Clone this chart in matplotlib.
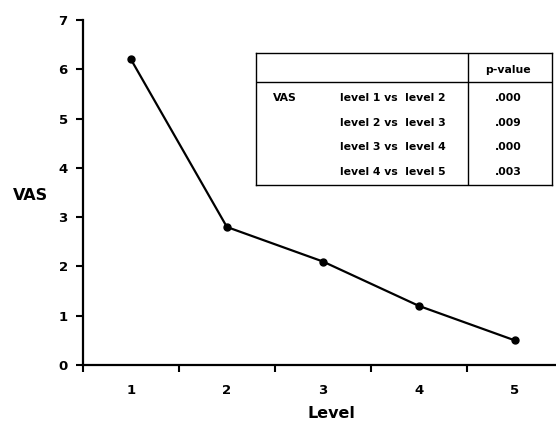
import matplotlib
matplotlib.use('Agg')
import matplotlib.pyplot as plt

levels = [1, 2, 3, 4, 5]
vas = [6.2, 2.8, 2.1, 1.2, 0.5]

row_names = ['VAS', '', '', '']
comparisons = ['level 1 vs  level 2', 'level 2 vs  level 3',
               'level 3 vs  level 4', 'level 4 vs  level 5']
p_values = ['.000', '.009', '.000', '.003']

plt.rcParams['font.family'] = ['DejaVu Sans']
plt.rcParams['font.weight'] = 'bold'

fig = plt.figure(figsize=(5.56, 4.21), dpi=100)
ax = fig.add_axes([83 / 556, 56 / 421, 473 / 556, 345 / 421])

ax.plot(levels, vas, color='black', linewidth=1.6, marker='o', markersize=5)

ax.set_xlim(0.5, 5.43)
ax.set_ylim(0, 7)
ax.set_yticks(range(0, 8))
ax.set_yticklabels([str(i) for i in range(0, 8)], fontsize=9.5, fontweight='bold')
# category axis: tick marks between categories, labels at centres
ax.set_xticks([0.5, 1.5, 2.5, 3.5, 4.5])
ax.set_xticklabels([])
ax.set_xticks(levels, minor=True)
ax.set_xticklabels([str(l) for l in levels], minor=True, fontsize=9.5, fontweight='bold')
ax.tick_params(axis='x', which='minor', length=0, pad=14)
ax.tick_params(axis='both', which='major', length=5, width=1.5, direction='out')
ax.tick_params(axis='y', pad=6)

for side in ['top', 'right']:
    ax.spines[side].set_visible(False)
for side in ['left', 'bottom']:
    ax.spines[side].set_linewidth(1.6)

fig.text(30 / 556, 1 - 195 / 421, 'VAS', fontsize=11.5, fontweight='bold', ha='center', va='center')
fig.text(331 / 556, 1 - 413 / 421, 'Level', fontsize=11.5, fontweight='bold', ha='center', va='center')

# p-value table
tab = fig.add_axes([256 / 556, 1 - 185 / 421, 296 / 556, 132 / 421])
tab.set_xlim(0, 296)
tab.set_ylim(132, 0)
tab.set_xticks([])
tab.set_yticks([])
for s in tab.spines.values():
    s.set_linewidth(1.0)
tab.plot([212, 212], [0, 132], color='black', linewidth=1.0)
tab.plot([0, 296], [29, 29], color='black', linewidth=1.0)
tab.text(252, 17, 'p-value', fontsize=7.8, fontweight='bold', ha='center', va='center')
row_y = [45, 70, 94, 119]
for y, name, comp, p in zip(row_y, row_names, comparisons, p_values):
    tab.text(17, y, name, fontsize=7.8, fontweight='bold', ha='left', va='center')
    tab.text(84, y, comp, fontsize=7.8, fontweight='bold', ha='left', va='center')
    tab.text(252, y, p, fontsize=7.8, fontweight='bold', ha='center', va='center')

fig.savefig('out.png', dpi=100)
